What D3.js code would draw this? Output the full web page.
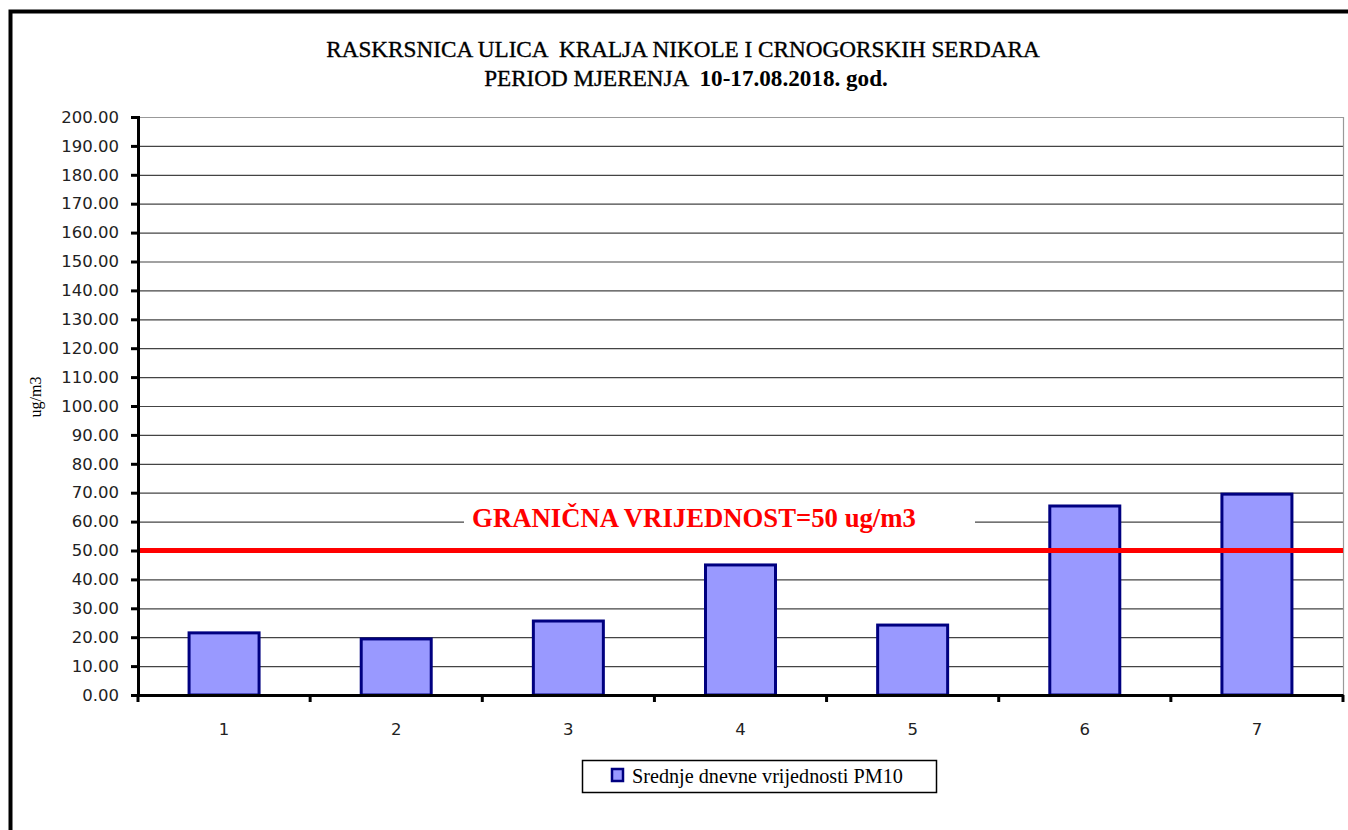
<!DOCTYPE html>
<html><head><meta charset="utf-8">
<script src="https://cdn.jsdelivr.net/npm/d3@7"></script>
<style>body{margin:0;background:#fff;overflow:hidden} text{white-space:pre}</style>
</head><body>
<svg id="c" width="1348" height="830"></svg>
<script>
const categories = ["1","2","3","4","5","6","7"];
const values = [21.5, 19.4, 25.6, 45.0, 24.2, 65.4, 69.5];
const yTicks = d3.range(0, 201, 10);
const limitValue = 50;
const titleLine1 = "RASKRSNICA ULICA  KRALJA NIKOLE I CRNOGORSKIH SERDARA";
const titleLine2a = "PERIOD MJERENJA  ";
const titleLine2b = "10-17.08.2018. god.";
const limitLabel = "GRANIČNA VRIJEDNOST=50 ug/m3";
const seriesName = "Srednje dnevne vrijednosti PM10";
const yTitle = "ug/m3";

const svg = d3.select("#c");
const serif = "'Liberation Serif', 'Times New Roman', Tinos, 'DejaVu Serif', serif";
const sans = "'DejaVu Sans', sans-serif";
const L = 138, R = 1343, T = 117, B = 695;

function fit(sel, target, base){
  const w = sel.node().getComputedTextLength();
  sel.attr("font-size", base*target/w);
}

// outer frame
svg.append("rect").attr("x",10.5).attr("y",11.5).attr("width",1400).attr("height",900)
  .attr("fill","none").attr("stroke","#000").attr("stroke-width",4);

const x = d3.scaleBand().domain(categories).range([L,R]).paddingInner(0).paddingOuter(0);
const y = d3.scaleLinear().domain([0,200]).range([B,T]);

// gridlines
svg.append("g").selectAll("line").data(yTicks.filter(d=>d>0)).join("line")
  .attr("x1",L).attr("x2",R).attr("y1",d=>y(d)+0.5).attr("y2",d=>y(d)+0.5)
  .attr("stroke",d=>d===200?"#999":"#444").attr("stroke-width",1.2);
svg.append("line").attr("x1",R+0.5).attr("x2",R+0.5).attr("y1",T).attr("y2",B)
  .attr("stroke","#999").attr("stroke-width",1.2);

// title
const t1 = svg.append("text").attr("x",683).attr("y",57).attr("text-anchor","middle")
  .style("font-family",serif).attr("font-size",20).attr("fill","#000")
  .attr("stroke","#000").attr("stroke-width",0.35).text(titleLine1);
fit(t1, 714, 20);
const t2 = svg.append("text").attr("x",686).attr("y",86).attr("text-anchor","middle")
  .style("font-family",serif).attr("font-size",20).attr("fill","#000");
t2.append("tspan").attr("stroke","#000").attr("stroke-width",0.35).text(titleLine2a);
t2.append("tspan").attr("font-weight","bold").text(titleLine2b);
{
  const w = t2.node().getComputedTextLength();
  t2.attr("font-size", 20*404/w);
}

// bars
const bw = 70;
svg.append("g").selectAll("rect").data(values).join("rect")
  .attr("x",(d,i)=>x(categories[i])+x.bandwidth()/2-bw/2)
  .attr("y",d=>y(d)).attr("width",bw).attr("height",d=>B-y(d))
  .attr("fill","#9999FF").attr("stroke","#000080").attr("stroke-width",3);

// limit label with white box
svg.append("rect").attr("x",464).attr("y",y(64.5)).attr("width",511).attr("height",y(53.5)-y(64.5)).attr("fill","#fff");
const lt = svg.append("text").attr("x",694).attr("y",527).attr("text-anchor","middle")
  .style("font-family",serif).attr("font-size",26).attr("font-weight","bold")
  .attr("fill","#FF0000").text(limitLabel);
fit(lt, 444, 26);

// limit line
svg.append("line").attr("x1",L).attr("x2",R).attr("y1",y(limitValue)).attr("y2",y(limitValue))
  .attr("stroke","#FF0000").attr("stroke-width",5);

// y axis
const yAxis = d3.axisLeft(y).tickValues(yTicks).tickFormat(d3.format(".2f")).tickSize(7).tickPadding(12);
const gy = svg.append("g").attr("transform",`translate(${L},0)`).call(yAxis);
gy.select(".domain").attr("stroke","#000").attr("stroke-width",3);
gy.selectAll(".tick line").attr("stroke","#000").attr("stroke-width",3);
gy.selectAll("text").style("font-family",sans).attr("font-size",16.5).attr("fill","#222");

// x axis
const xAxis = d3.axisBottom(x).tickSize(0).tickPadding(28);
const gx = svg.append("g").attr("transform",`translate(0,${B})`).call(xAxis);
gx.select(".domain").attr("stroke","#000").attr("stroke-width",3);
gx.selectAll("text").style("font-family",sans).attr("font-size",16.5).attr("fill","#222");
const bounds = categories.map(c=>x(c)).concat([R]);
svg.append("g").selectAll("line").data(bounds).join("line")
  .attr("x1",d=>d).attr("x2",d=>d).attr("y1",B).attr("y2",B+7)
  .attr("stroke","#000").attr("stroke-width",3);

// y title
const yt = svg.append("text").attr("transform","translate(41,397) rotate(-90)").attr("text-anchor","middle")
  .style("font-family",serif).attr("font-size",18).attr("fill","#000").text(yTitle);
fit(yt, 41, 18);

// legend
svg.append("rect").attr("x",582.5).attr("y",760.5).attr("width",354).attr("height",32)
  .attr("fill","#fff").attr("stroke","#000").attr("stroke-width",1.5);
svg.append("rect").attr("x",612).attr("y",769).attr("width",11).attr("height",12)
  .attr("fill","#9999FF").attr("stroke","#000080").attr("stroke-width",2.5);
const lg = svg.append("text").attr("x",632).attr("y",783).style("font-family",serif).attr("font-size",18.5)
  .attr("fill","#000").text(seriesName);
fit(lg, 271, 18.5);
</script>
</body></html>
